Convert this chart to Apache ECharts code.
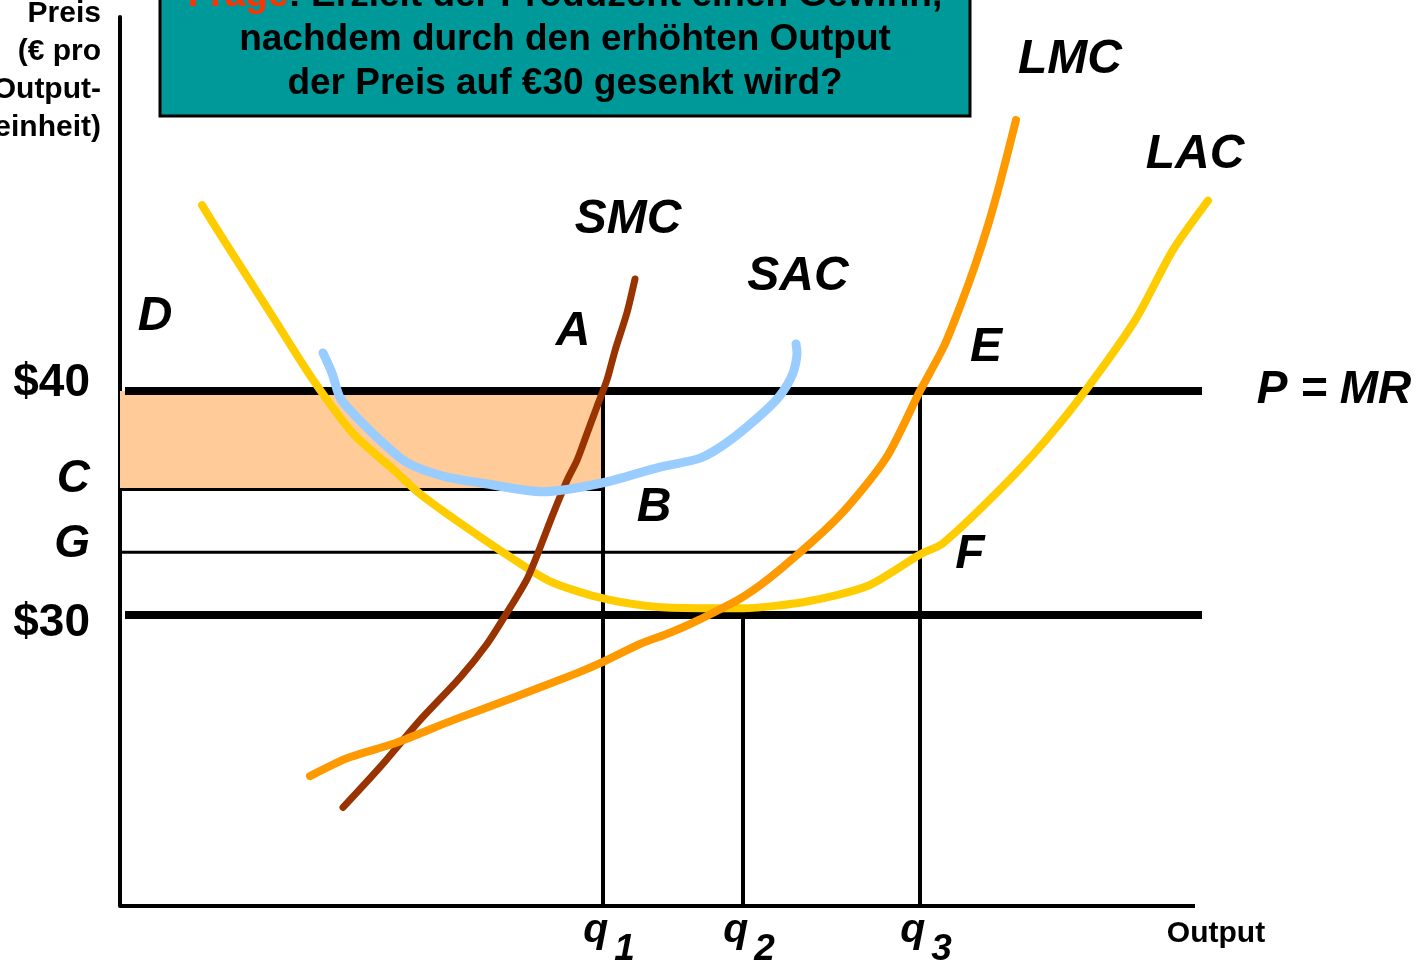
<!DOCTYPE html>
<html>
<head>
<meta charset="utf-8">
<script src="https://cdn.jsdelivr.net/npm/echarts@6.0.0/dist/echarts.min.js"></script>
<style>
html, body { margin: 0; padding: 0; background: #fff; }
#box { width: 1422px; height: 966px; }
</style>
</head>
<body>
<div id="box"></div>
<script>
// x = Output (arbitrary units), y = Preis in €
var priceHigh = 40, priceLow = 30, costC = 35.6, costG = 32.8;
var q1 = 48.3, q2 = 62.3, q3 = 80;
var xAxisEnd = 107.5;
var lineStart = 0.5, lineEnd = 108.2;

var yTickValues = [priceHigh, costC, costG, priceLow];
var yTickLabels = ['$40', 'C', 'G', '$30'];
var xTickValues = [q1, q2, q3];
var xTickLabels = ['1', '2', '3'];

// Kurven [Output, Preis]
var lac = [[8.2,48.3],[10.0,47.0],[12.3,45.4],[15.3,43.3],[19.3,40.5],[23.3,38.1],[27.3,36.5],[30.0,35.4],[34.0,34.1],[39.3,32.5],[43.0,31.5],[47.7,30.8],[52.7,30.4],[58.0,30.3],[62.3,30.3],[68.7,30.6],[74.8,31.3],[80.0,32.7],[82.3,33.2],[89.1,36.1],[93.7,38.4],[98.0,40.9],[101.7,43.3],[105.3,46.3],[108.8,48.5]];
var sac = [[20.3,41.7],[21.2,40.8],[22.0,39.7],[23.3,39.0],[26.0,37.8],[28.7,36.8],[32.3,36.2],[36.0,35.9],[42.3,35.5],[48.3,35.9],[54.0,36.6],[58.0,37.0],[60.7,37.7],[64.0,38.9],[66.0,39.8],[67.3,40.8],[67.7,41.7],[67.6,42.1]];
var smc = [[22.3,21.4],[26.0,23.2],[30.0,25.3],[34.0,27.2],[36.7,28.7],[38.7,30.1],[40.7,31.6],[42.0,33.0],[43.3,34.5],[44.7,36.0],[45.7,36.9],[46.7,38.1],[47.7,39.3],[48.7,40.5],[49.5,41.8],[50.7,43.5],[51.5,45.0]];
var lmc = [[19.0,22.8],[22.7,23.6],[27.7,24.3],[33.3,25.3],[39.3,26.3],[45.7,27.4],[48.3,27.9],[52.0,28.7],[55.0,29.2],[58.0,29.8],[62.3,30.8],[66.2,32.1],[71.9,34.4],[76.6,37.0],[80.0,40.0],[82.4,42.0],[84.2,44.0],[85.5,45.6],[86.8,47.4],[88.0,49.3],[89.6,52.1]];

var font = 'Liberation Sans, Arial, sans-serif';

function seg(data, width, z) {
  return {
    type: 'line', data: data, symbol: 'none', clip: false, silent: true,
    lineStyle: { color: '#000', width: width }, z: z
  };
}
function curve(data, color, width) {
  return {
    type: 'line', data: data, symbol: 'none', clip: false, silent: true,
    smooth: 0.25,
    lineStyle: { color: color, width: width, cap: 'round', join: 'round' }, z: 5
  };
}
function label(text, x, y, size) {
  return {
    type: 'text', x: x, y: y, silent: true,
    style: { text: text, fill: '#000', align: 'center', verticalAlign: 'middle',
             font: 'italic bold ' + (size || 48) + 'px ' + font }
  };
}

var chartDom = document.getElementById('box');
var myChart = echarts.init(chartDom);
var option = {
  animation: false,
  grid: { left: 120, right: 202, top: 17, bottom: 60, outerBoundsMode: 'none', containLabel: false },
  xAxis: {
    type: 'value', min: 0, max: 110,
    splitLine: { show: false },
    axisLine: { show: false },
    axisTick: { show: false },
    axisLabel: {
      customValues: xTickValues,
      margin: 4,
      formatter: function (v) {
        return '{q|q}{s|' + xTickLabels[xTickValues.indexOf(v)] + '}';
      },
      rich: {
        q: { fontFamily: font, fontStyle: 'italic', fontWeight: 'bold', fontSize: 41, color: '#000', verticalAlign: 'bottom', padding: [0, 0, 17, 12] },
        s: { fontFamily: font, fontStyle: 'italic', fontWeight: 'bold', fontSize: 37, color: '#000', verticalAlign: 'bottom', padding: [0, 0, 0, 6] }
      }
    }
  },
  yAxis: {
    type: 'value', min: 17, max: 56.7,
    splitLine: { show: false },
    axisLine: { lineStyle: { color: '#000', width: 4 } },
    axisTick: { show: false },
    axisLabel: {
      customValues: yTickValues,
      margin: 30,
      formatter: function (v) {
        var i = yTickValues.indexOf(v);
        return '{s' + i + '|' + yTickLabels[i] + '}';
      },
      rich: {
        s0: { fontFamily: font, fontWeight: 'bold', fontSize: 46, color: '#000', padding: [0, 0, 16, 0] },
        s1: { fontFamily: font, fontStyle: 'italic', fontWeight: 'bold', fontSize: 46, color: '#000', padding: [0, 0, 20, 0] },
        s2: { fontFamily: font, fontStyle: 'italic', fontWeight: 'bold', fontSize: 46, color: '#000', padding: [0, 0, 16, 0] },
        s3: { fontFamily: font, fontWeight: 'bold', fontSize: 46, color: '#000', padding: [16, 0, 0, 0] }
      }
    }
  },
  graphic: [
    {
      type: 'rect', silent: true,
      shape: { x: 160, y: -60, width: 810, height: 176 },
      style: { fill: '#009999', stroke: '#000', lineWidth: 3 }
    },
    {
      type: 'text', x: 565, y: 40, silent: true,
      style: {
        text: '{r|Frage}: Erzielt der Produzent einen Gewinn,\nnachdem durch den erhöhten Output\nder Preis auf €30 gesenkt wird?',
        align: 'center', verticalAlign: 'middle',
        font: 'bold 37px ' + font, fill: '#000', lineHeight: 44,
        rich: { r: { fill: '#FF3300', font: 'bold 37px ' + font, lineHeight: 44 } }
      }
    },
    {
      type: 'text', x: 101, y: 71, silent: true,
      style: {
        text: 'Preis\n(€ pro\nOutput-\neinheit)', align: 'right', verticalAlign: 'middle',
        font: 'bold 30px ' + font, fill: '#000', lineHeight: 38
      }
    },
    {
      type: 'text', x: 1216, y: 934, silent: true,
      style: { text: 'Output', align: 'center', verticalAlign: 'middle', font: 'bold 30px ' + font, fill: '#000' }
    },
    label('LMC', 1070, 60),
    label('LAC', 1195, 155),
    label('SMC', 628, 220),
    label('SAC', 798, 277),
    label('D', 155, 317),
    label('A', 573, 332),
    label('E', 986, 348),
    label('B', 654, 508),
    label('F', 970, 555),
    label('P = MR', 1334, 390, 46)
  ],
  series: [
    {
      type: 'line', data: [], silent: true,
      markArea: {
        silent: true,
        itemStyle: { color: '#FFCC99' },
        data: [[{ coord: [0, priceHigh] }, { coord: [q1, costC] }]]
      },
      z: 1
    },
    seg([[0, 17], [xAxisEnd, 17]], 4, 4),
    seg([[0, costC], [q1, costC]], 3, 2),
    seg([[0, costG], [q3, costG]], 3, 2),
    seg([[q1, 17], [q1, priceHigh]], 4, 2),
    seg([[q2, 17], [q2, priceLow]], 4, 2),
    seg([[q3, 17], [q3, priceHigh]], 4, 2),
    seg([[lineStart, priceHigh], [lineEnd, priceHigh]], 8, 3),
    seg([[lineStart, priceLow], [lineEnd, priceLow]], 8, 3),
    curve(lac, '#FFCC00', 8),
    curve(smc, '#993300', 7),
    curve(sac, '#99CCFF', 9),
    curve(lmc, '#FF9900', 8)
  ]
};
option && myChart.setOption(option);
</script>
</body>
</html>
